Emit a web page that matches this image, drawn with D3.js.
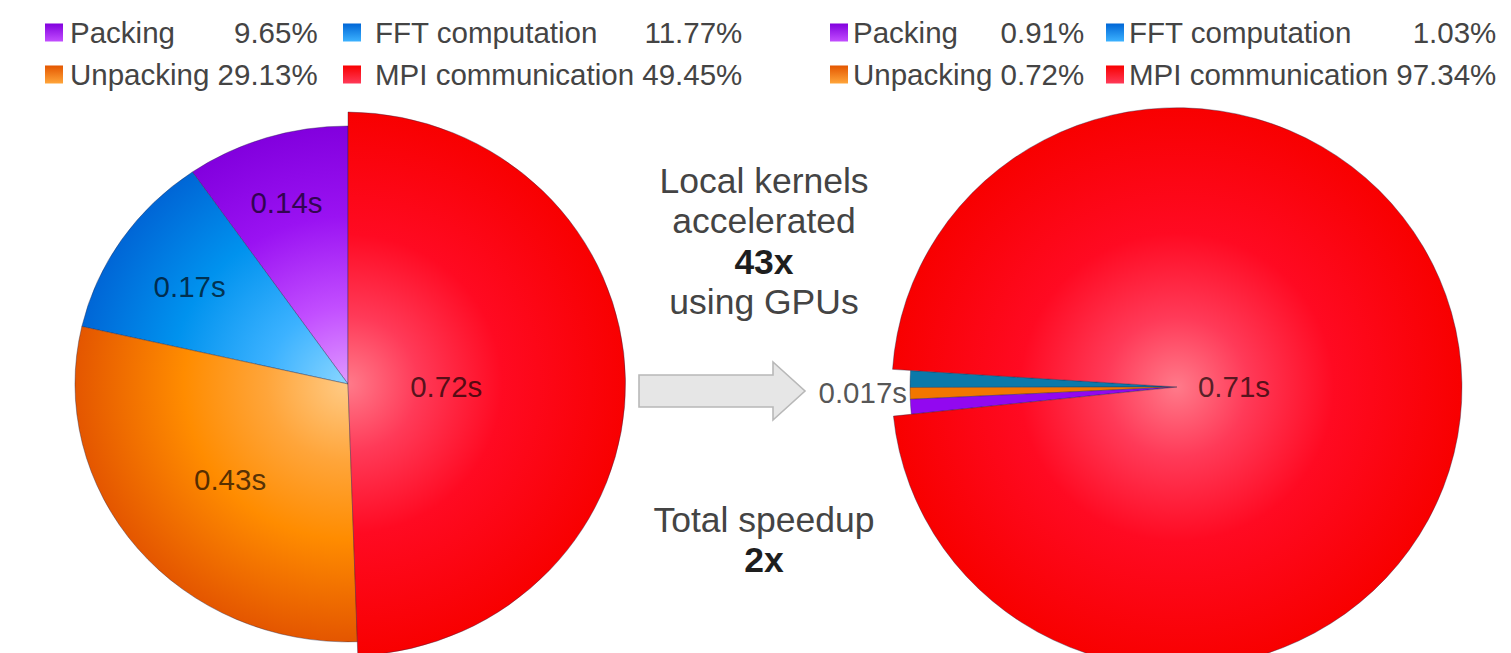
<!DOCTYPE html>
<html>
<head>
<meta charset="utf-8">
<script src="https://cdn.jsdelivr.net/npm/d3@7"></script>
<style>
  html, body { margin: 0; padding: 0; background: #fff; }
  svg { display: block; font-family: "Liberation Sans", Arial, Helvetica, sans-serif; }
</style>
</head>
<body>
<svg id="chart" width="1511" height="653"></svg>
<script>
// ---- data ---------------------------------------------------------------
const categories = ["Packing", "FFT computation", "Unpacking", "MPI communication"];

// CPU run: share of total time (%) and time per phase
const cpuShare = [9.65, 11.77, 29.13, 49.45];
const cpuTimes = ["0.14s", "0.17s", "0.43s", "0.72s"];

// GPU run: share of total time (%) and times (local kernels combined, MPI)
const gpuShare = [0.91, 1.03, 0.72, 97.34];
const gpuKernelTime = "0.017s";
const gpuMpiTime = "0.71s";

// slice order, counter-clockwise
const cpuOrder = [0, 1, 2, 3];
const gpuOrder = [1, 2, 0, 3];

const centerTop = ["Local kernels", "accelerated", "43x", "using GPUs"];
const centerBottom = ["Total speedup", "2x"];
const centerBold = ["43x", "2x"];

// ---- styles ---------------------------------------------------------------
const sliceStops = [
  [[0, "#e09aff"], [0.3, "#c24eff"], [0.65, "#9a12f2"], [1, "#8200de"]],   // Packing
  [[0, "#8ad6ff"], [0.3, "#3cb2ff"], [0.65, "#0092ee"], [1, "#0066d6"]],   // FFT
  [[0, "#ffcb86"], [0.3, "#ffa53a"], [0.6, "#ff8c00"], [1, "#e45600"]],    // Unpacking
  [[0, "#ff7a8a"], [0.25, "#ff3a58"], [0.55, "#ff0a22"], [1, "#f80000"]]   // MPI
];
const gpuSmallFill = ["#9208f0", "#0b79aa", "#f27600"];
const MPI = 3;

const svg = d3.select("#chart");
const defs = svg.append("defs");
const textColor = "#444";

// ---- pies -----------------------------------------------------------------
function drawPie(cfg) {
  const a0 = cfg.startDeg * Math.PI / 180;
  const pie = d3.pie().sort(null).value(i => cfg.shares[i])
    .startAngle(a0).endAngle(a0 - 2 * Math.PI);
  const arcs = pie(cfg.order);
  const unitArc = d3.arc().innerRadius(0).outerRadius(1);

  // radial gradients in each slice's own (unit) space
  cfg.order.forEach(i => {
    const g = defs.append("radialGradient")
      .attr("id", `${cfg.id}-fill-${i}`)
      .attr("gradientUnits", "userSpaceOnUse")
      .attr("cx", 0).attr("cy", 0).attr("r", 1);
    g.selectAll("stop").data(sliceStops[i]).join("stop")
      .attr("offset", d => d[0]).attr("stop-color", d => d[1]);
  });

  const g = svg.append("g").attr("class", `pie ${cfg.id}`);
  g.selectAll("path").data(arcs).join("path")
    .attr("d", unitArc)
    .attr("transform", d => {
      const r = d.data === MPI ? cfg.mainR : cfg.restR;
      return `translate(${cfg.cx},${cfg.cy}) scale(${r[0]},${r[1]})`;
    })
    .attr("fill", d => cfg.flat && d.data !== MPI ? cfg.flat(d.data) : `url(#${cfg.id}-fill-${d.data})`)
    .attr("stroke", "rgba(40,40,70,0.38)")
    .attr("stroke-width", 1)
    .attr("vector-effect", "non-scaling-stroke");

  return arcs;
}

function pointAt(cfg, angle, frac, r) {
  return [cfg.cx + frac * r[0] * Math.sin(angle), cfg.cy - frac * r[1] * Math.cos(angle)];
}

const labelFont = 29.5;

// CPU pie
const cpuCfg = {
  id: "cpu", cx: 348, cy: 384, startDeg: 0,
  shares: cpuShare, order: cpuOrder,
  mainR: [280, 272], restR: [273, 258]
};
const cpuArcs = drawPie(cpuCfg);
const cpuLabelFrac = [0.755, 0.70, 0.56, 0.36];
svg.append("g").selectAll("text").data(cpuArcs).join("text")
  .each(function (d) {
    const mid = (d.startAngle + d.endAngle) / 2;
    const [x, y] = pointAt(cpuCfg, mid, cpuLabelFrac[d.data], cpuCfg.restR);
    d3.select(this).attr("x", x).attr("y", y + 4);
  })
  .attr("text-anchor", "middle")
  .attr("dominant-baseline", "central")
  .attr("font-size", labelFont)
  .attr("fill", "#000").attr("fill-opacity", 0.68)
  .text(d => cpuTimes[d.data]);

// GPU pie
const gpuCfg = {
  id: "gpu", cx: 1177, cy: 387, startDeg: 273.6,
  shares: gpuShare, order: gpuOrder,
  mainR: [285, 280], restR: [267, 262],
  flat: i => gpuSmallFill[i]
};
const gpuArcs = drawPie(gpuCfg);
{
  const mpiArc = gpuArcs.find(d => d.data === MPI);
  const mid = (mpiArc.startAngle + mpiArc.endAngle) / 2;
  const [x, y] = pointAt(gpuCfg, mid, 0.2, gpuCfg.mainR);
  svg.append("text").attr("x", x).attr("y", y + 1)
    .attr("text-anchor", "middle").attr("dominant-baseline", "central")
    .attr("font-size", labelFont).attr("fill", "#000").attr("fill-opacity", 0.68)
    .text(gpuMpiTime);

  const small = gpuArcs.filter(d => d.data !== MPI);
  const sMid = (d3.max(small, d => d.startAngle) + d3.min(small, d => d.endAngle)) / 2;
  const [sx, sy] = pointAt(gpuCfg, sMid, 1, [gpuCfg.restR[0] + 3, gpuCfg.restR[1]]);
  svg.append("text").attr("x", sx).attr("y", sy)
    .attr("text-anchor", "end").attr("dominant-baseline", "central")
    .attr("font-size", labelFont).attr("fill", "#000").attr("fill-opacity", 0.68)
    .text(gpuKernelTime);
}

// ---- legends --------------------------------------------------------------
function drawLegend(shares, cols) {
  // two columns, two rows: [Packing, FFT] / [Unpacking, MPI]
  const grid = [[0, 2], [1, 3]];
  const baselines = [42.5, 84.5];
  const sw = 18;
  const g = svg.append("g").attr("font-size", 29.5).attr("fill", textColor);
  grid.forEach((rows, c) => {
    const col = cols[c];
    const items = rows.map((i, r) => {
      const y = baselines[r];
      const lg = defs.append("linearGradient")
        .attr("id", `sw-${col.swatchX}-${i}`)
        .attr("x1", 0).attr("y1", 0).attr("x2", 0).attr("y2", 1);
      lg.append("stop").attr("offset", 0).attr("stop-color", sliceStops[i][3][1]);
      lg.append("stop").attr("offset", 1).attr("stop-color", sliceStops[i][1][1]);
      g.append("rect").attr("x", col.swatchX).attr("y", y - sw - 1).attr("width", sw).attr("height", sw)
        .attr("fill", `url(#sw-${col.swatchX}-${i})`);
      const label = g.append("text").attr("x", col.textX).attr("y", y).text(categories[i]);
      const value = g.append("text").attr("y", y).attr("text-anchor", "end").text(`${shares[i].toFixed(2)}%`);
      return { label, value };
    });
    const space = 8.2;
    const right = col.textX + d3.max(items, it =>
      it.label.node().getComputedTextLength() + space + it.value.node().getComputedTextLength());
    items.forEach(it => it.value.attr("x", right));
  });
}

drawLegend(cpuShare, [{ swatchX: 45, textX: 70 }, { swatchX: 343, textX: 375 }]);
drawLegend(gpuShare, [{ swatchX: 830, textX: 853 }, { swatchX: 1106, textX: 1129 }]);

// ---- centre: arrow and annotation -----------------------------------------
{
  const x0 = 639, x1 = 773, tip = 805, cy = 391, shaft = 16, head = 29;
  const pts = [[x0, cy - shaft], [x1, cy - shaft], [x1, cy - head], [tip, cy],
               [x1, cy + head], [x1, cy + shaft], [x0, cy + shaft]];
  svg.append("path").attr("d", d3.line()(pts) + "Z")
    .attr("fill", "#e6e6e6").attr("stroke", "#b8b8b8").attr("stroke-width", 1.6)
    .attr("stroke-linejoin", "miter");

  const cx = 764;
  const put = (lines, baselines) => lines.forEach((t, k) => {
    const bold = centerBold.includes(t);
    svg.append("text").attr("x", cx).attr("y", baselines[k])
      .attr("text-anchor", "middle").attr("font-size", 35.5)
      .attr("font-weight", bold ? "bold" : "normal")
      .attr("fill", bold ? "#1e1e1e" : textColor)
      .text(t);
  });
  put(centerTop, [193, 233, 274, 314]);
  put(centerBottom, [532, 572]);
}
</script>
</body>
</html>
